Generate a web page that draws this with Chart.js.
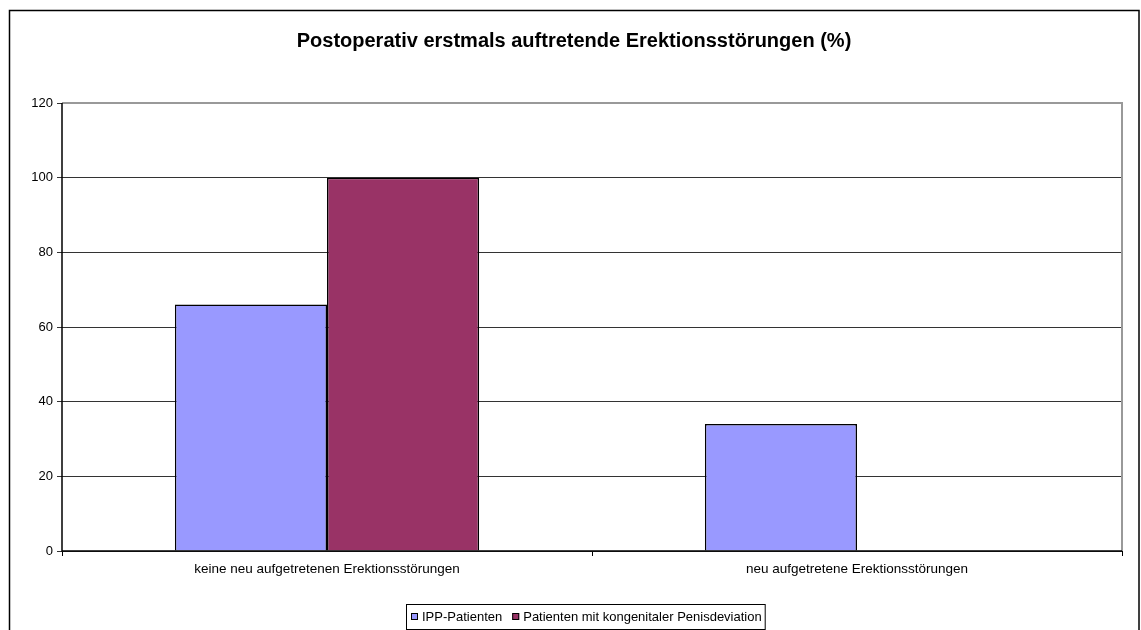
<!DOCTYPE html>
<html>
<head>
<meta charset="utf-8">
<script src="https://cdn.jsdelivr.net/npm/chart.js@4/dist/chart.umd.min.js"></script>
<style>
  html, body { margin: 0; padding: 0; background: #fff; }
  #wrap { width: 1141px; height: 630px; position: relative; }
</style>
</head>
<body>
<div id="wrap"><canvas id="c" width="1141" height="630"></canvas></div>
<script>
// Chart data
const categories = ['keine neu aufgetretenen Erektionsstörungen', 'neu aufgetretene Erektionsstörungen'];
const seriesNames = ['IPP-Patienten', 'Patienten mit kongenitaler Penisdeviation'];
const ippValues = [66, 34];
const deviationValues = [100, 0];
const yTicks = [0, 20, 40, 60, 80, 100, 120];
const chartTitle = 'Postoperativ erstmals auftretende Erektionsstörungen (%)';

const seriesColors = ['#9999FF', '#993366'];
const FONT = '"Liberation Sans", Arial, sans-serif';

// Frame, plot border, title and legend box drawn on the canvas
const decorations = {
  id: 'decorations',
  beforeDraw(chart) {
    const ctx = chart.ctx;
    ctx.save();
    ctx.fillStyle = '#fff';
    ctx.fillRect(0, 0, chart.width, chart.height);
    // outer frame
    ctx.strokeStyle = '#000';
    ctx.lineWidth = 1.5;
    ctx.strokeRect(9.5, 10.5, 1129.5, 640);
    ctx.restore();
  },
  afterDatasetsDraw(chart) {
    const ctx = chart.ctx;
    const a = chart.chartArea;
    ctx.save();
    // plot area border (top and right)
    ctx.strokeStyle = '#999';
    ctx.lineWidth = 2;
    ctx.beginPath();
    ctx.moveTo(a.left, a.top);
    ctx.lineTo(a.right, a.top);
    ctx.lineTo(a.right, a.bottom);
    ctx.stroke();
    // axis lines
    ctx.strokeStyle = '#000';
    ctx.lineWidth = 1.5;
    ctx.beginPath();
    ctx.moveTo(a.left, a.top);
    ctx.lineTo(a.left, a.bottom);
    ctx.lineTo(a.right, a.bottom);
    ctx.stroke();

    // title
    ctx.fillStyle = '#000';
    ctx.font = 'bold 20px ' + FONT;
    ctx.textAlign = 'center';
    ctx.textBaseline = 'middle';
    ctx.fillText(chartTitle, 574, 41);

    // legend
    ctx.font = '13px ' + FONT;
    ctx.textAlign = 'left';
    const boxX = 406, boxY = 604, boxH = 25;
    let x = boxX + 5;
    const items = [];
    seriesNames.forEach((n, i) => {
      items.push({ n, i, x });
      x += 11 + ctx.measureText(n).width + 10;
    });
    const boxW = x - boxX - 7;
    ctx.strokeStyle = '#000';
    ctx.lineWidth = 1;
    ctx.strokeRect(boxX + 0.5, boxY + 0.5, boxW, boxH);
    items.forEach(it => {
      ctx.fillStyle = seriesColors[it.i];
      ctx.fillRect(it.x, boxY + 9, 7, 7);
      ctx.strokeStyle = '#000';
      ctx.strokeRect(it.x + 0.5, boxY + 9.5, 6, 6);
      ctx.fillStyle = '#000';
      ctx.fillText(it.n, it.x + 11, boxY + 13.5);
    });
    ctx.restore();
  }
};

new Chart(document.getElementById('c'), {
  type: 'bar',
  data: {
    labels: categories,
    datasets: [
      { label: seriesNames[0], data: ippValues, backgroundColor: seriesColors[0], borderColor: '#000', borderWidth: 1.5 },
      { label: seriesNames[1], data: deviationValues, backgroundColor: seriesColors[1], borderColor: '#000', borderWidth: 1.5 }
    ]
  },
  options: {
    responsive: false,
    animation: false,
    devicePixelRatio: 1,
    layout: { padding: { top: 103, right: 19, bottom: 49, left: 0 } },
    categoryPercentage: 0.574,
    barPercentage: 1.0,
    plugins: {
      legend: { display: false },
      title: { display: false },
      tooltip: { enabled: false }
    },
    scales: {
      x: {
        offset: true,
        afterFit(s) { s.height = 30; },
        grid: { offset: true, drawOnChartArea: false, drawTicks: true, tickLength: 5, color: '#000' },
        border: { display: false },
        ticks: { color: '#000', font: { family: FONT, size: 13.5 }, padding: 5, maxRotation: 0 }
      },
      y: {
        min: 0, max: 120,
        afterFit(s) { s.width = 62; },
        afterBuildTicks(s) { s.ticks = yTicks.map(v => ({ value: v })); },
        grid: { color: '#333', lineWidth: 1, tickLength: 5, drawTicks: true },
        border: { display: false },
        ticks: { color: '#000', font: { family: FONT, size: 13 }, padding: 4 }
      }
    }
  },
  plugins: [decorations]
});
</script>
</body>
</html>
